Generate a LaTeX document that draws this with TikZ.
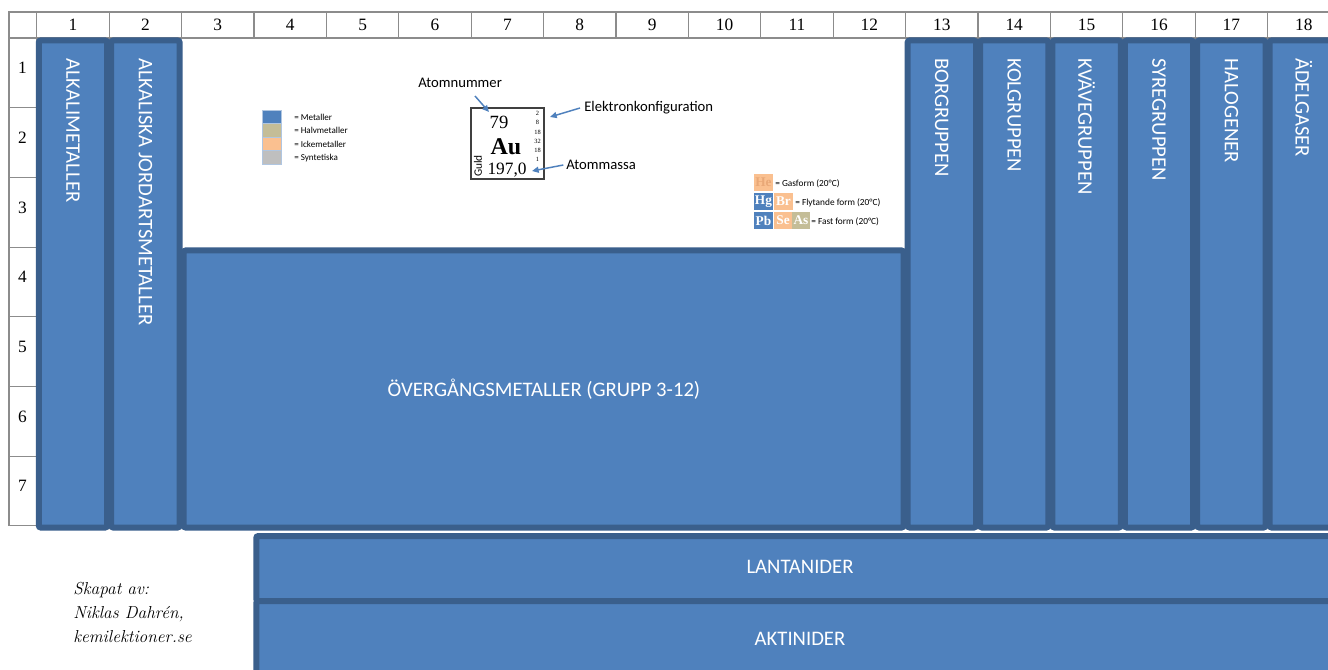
\documentclass[tikz,border=0pt]{standalone}
\usepackage{fontspec}
\setsansfont{Carlito}
\newfontfamily\numfont{Liberation Serif}
\usepackage{tikz}
\usetikzlibrary{arrows.meta}

\definecolor{grpblue}{HTML}{4F81BD}
\definecolor{grpedge}{HTML}{3A5F8C}
\definecolor{halvmet}{HTML}{C4BD97}
\definecolor{ickemet}{HTML}{FAC090}
\definecolor{synt}{HTML}{BFBFBF}
\definecolor{gasfg}{HTML}{E9A877}
\definecolor{gridline}{HTML}{8C8C8C}

\begin{document}
\begin{tikzpicture}[x=0.75pt, y=-0.75pt,
    cell/.style={draw=gridline, line width=0.8pt},
    grp/.style={draw=grpedge, fill=grpblue, line width=4.5pt, rounded corners=1.5pt},
    grptext/.style={text=white, font=\sffamily\fontsize{15.5}{18}\selectfont},
    vtext/.style={grptext, rotate=-90, anchor=west, inner sep=0pt},
    num/.style={font=\numfont\fontsize{13}{14}\selectfont},
    legbox/.style={draw=grpblue!45, line width=0.6pt},
    legtext/.style={anchor=west, inner sep=0pt, font=\sffamily\fontsize{6.8}{8}\selectfont},
    infotext/.style={anchor=west, inner sep=0pt, font=\sffamily\fontsize{11}{13}\selectfont},
    arrow/.style={-{Triangle[length=5pt,width=4.5pt]}, draw=grpblue, line width=1.1pt},
    statebox/.style={inner sep=0pt, font=\numfont\bfseries\fontsize{10}{10}\selectfont}
]
\clip (0,0) rectangle (1328,670);
\fill[white] (0,0) rectangle (1328,670);

% --- HEADER GRID ---
\draw[cell] (9,12) rectangle (36.8,38);
\foreach \c in {1,...,18} {
  \draw[cell] ({36.8+72.4*(\c-1)},12) rectangle ({36.8+72.4*\c},38);
  \node[num] (h\c) at ({73+72.4*(\c-1)},25) {\c};
}
\foreach \r in {1,...,7} {
  \draw[cell] (9,{38+69.7*(\r-1)}) rectangle (36.8,{38+69.7*\r});
  \node[num] (r\r) at (22.5,{68+69.7*(\r-1)}) {\r};
}

% --- GROUP BOXES ---
\draw[grp] (38.8,40.5) rectangle (107.2,527.5);
\draw[grp] (111.2,40.5) rectangle (179.6,527.5);
\draw[grp] (183.6,250.5) rectangle (903.6,527.5);
\foreach \c in {13,...,18}
  \draw[grp] ({38.8+72.4*(\c-1)},40.5) rectangle ({34.8+72.4*\c},527.5);

\node[vtext] (g1) at (73,58) {ALKALIMETALLER};
\node[vtext] (g2) at (145.4,58) {ALKALISKA JORDARTSMETALLER};
\node[vtext] (g13) at (941.8,58) {BORGRUPPEN};
\node[vtext] (g14) at (1014.2,58) {KOLGRUPPEN};
\node[vtext] (g15) at (1086.6,58) {KVÄVEGRUPPEN};
\node[vtext] (g16) at (1159,58) {SYREGRUPPEN};
\node[vtext] (g17) at (1231.4,58) {HALOGENER};
\node[vtext] (g18) at (1303.8,58) {ÄDELGASER};
\node[grptext] (trans) at (544,389) {ÖVERGÅNGSMETALLER (GRUPP 3-12)};

% --- LANTANIDER / AKTINIDER ---
\draw[grp] (256.3,536) rectangle (1342,601);
\draw[grp] (256.3,601) rectangle (1342,674);
\node[grptext] (lant) at (800,567) {LANTANIDER};
\node[grptext] (akt) at (800,639) {AKTINIDER};

% --- COLOUR LEGEND ---
\foreach \col/\txt [count=\i] in {grpblue/Metaller, halvmet/Halvmetaller, ickemet/Ickemetaller, synt/Syntetiska} {
  \draw[legbox, fill=\col] (262,{110+13.6*(\i-1)}) rectangle (281,{110+13.6*\i});
  \node[legtext] (leg\i) at (294,{117+13.6*(\i-1)}) {= \txt};
}

% --- EXAMPLE TILE ---
\draw[line width=0.8pt, draw=black!75] (471,108) rectangle (544,179);
\node[font=\numfont\fontsize{14}{15}\selectfont] (nr) at (499,122) {79};
\node[font=\numfont\bfseries\fontsize{18}{19}\selectfont] (sym) at (506,147) {Au};
\node[font=\numfont\fontsize{13}{14}\selectfont] (mass) at (507,170) {197,0};
\node[rotate=90, inner sep=0pt, font=\sffamily\fontsize{8.5}{9}\selectfont] (namn) at (478,166) {Guld};
\foreach \e/\y in {2/113, 8/122.5, 18/132, 32/141, 18/150.5, 1/159}
  \node[inner sep=0pt, font=\numfont\fontsize{4.8}{5}\selectfont] (ek\y) at (537.5,\y) {\e};

\node[infotext] (atnr) at (418,83) {Atomnummer};
\node[infotext] (elkonf) at (584,108) {Elektronkonfiguration};
\node[infotext] (atmassa) at (566,165) {Atommassa};
\coordinate (atnrstart) at (475,96);
\coordinate (nrtip) at (489,112);
\coordinate (ektip) at (550,117);
\coordinate (masstip) at (532,171);
\draw[arrow] (atnrstart) -- (nrtip);
\draw[arrow] ([xshift=-3pt]elkonf.west) -- (ektip);
\draw[arrow] ([xshift=-2pt]atmassa.west) -- (masstip);

% --- STATE LEGEND ---
\node[statebox, fill=ickemet, text=gasfg, minimum width=14.25pt, minimum height=12.75pt] (he) at (763.5,182.5) {He};
\node[statebox, fill=grpblue, text=white, minimum width=14.25pt, minimum height=12.75pt] (hg) at (763.5,201.5) {Hg};
\node[statebox, fill=ickemet, text=white, minimum width=14.25pt, minimum height=12.75pt] (br) at (783.5,201.5) {Br};
\node[statebox, fill=grpblue, text=white, minimum width=14.25pt, minimum height=12.75pt] (pb) at (763.5,220.5) {Pb};
\node[statebox, fill=ickemet, text=white, minimum width=13.5pt, minimum height=12.75pt] (se) at (783,220.5) {Se};
\node[statebox, fill=halvmet, text=white, minimum width=13.5pt, minimum height=12.75pt] (as) at (801,220.5) {As};
\node[legtext, font=\sffamily\fontsize{7}{8}\selectfont] (gas) at (775,184) {= Gasform (20°C)};
\node[legtext, font=\sffamily\fontsize{7}{8}\selectfont] (fly) at (795,203) {= Flytande form (20°C)};
\node[legtext, font=\sffamily\fontsize{7}{8}\selectfont] (fast) at (811,222) {= Fast form (20°C)};

% --- CREDIT ---
\node[anchor=west, align=left, inner sep=0pt, font=\itshape\fontsize{13}{18}\selectfont] (credit) at (73,612) {Skapat av:\\Niklas Dahrén,\\kemilektioner.se};
\end{tikzpicture}
\end{document}
